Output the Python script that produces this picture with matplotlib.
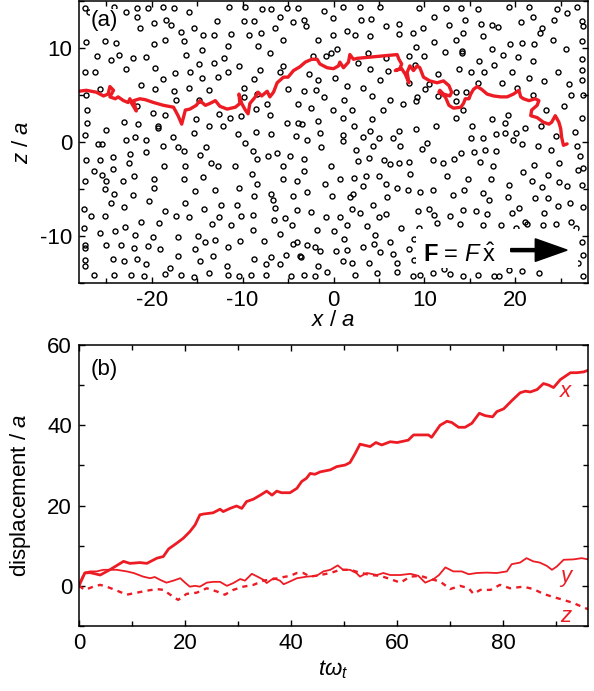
import numpy as np
import matplotlib
matplotlib.use("Agg")
import matplotlib.pyplot as plt
from matplotlib.patches import Rectangle
from matplotlib.ticker import MultipleLocator

# obstacle centres (x/a, z/a)
obstacles = np.array([
    (-27.3, 14.3), (-26.9, 13.8), (-24.2, 14.4), (-22.8, 13.8), (-21.6, 14.3), (-20.4, 14.3),
    (-18.8, 14.4), (-17.6, 14.3), (-15.9, 13.8), (-11.5, 14.4), (-9.7, 14.4), (-7.9, 14.2),
    (-6.9, 14.2), (-5.1, 14.3), (-3.9, 14.3), (-21.6, 13.3), (-19.8, 12.7), (-18.4, 13.0),
    (-17.9, 12.4), (-12.8, 12.9), (-9.9, 12.9), (-8.7, 12.9), (-5.9, 13.3), (-4.5, 12.8),
    (-21.3, 12.1), (-15.3, 12.1), (-16.8, 11.7), (-14.4, 11.4), (-13.1, 11.4), (-11.3, 11.5),
    (-9.3, 11.4), (-8.0, 11.6), (-6.4, 12.1), (-5.6, 10.8), (-27.2, 10.6), (-25.1, 10.7),
    (-23.9, 10.5), (-19.8, 10.4), (-18.5, 10.8), (-16.5, 10.7), (-11.6, 10.2), (-8.3, 10.2),
    (-26.0, 9.2), (-24.5, 8.7), (-23.6, 9.3), (-22.1, 8.9), (-20.6, 9.0), (-16.2, 9.3),
    (-14.5, 9.8), (-12.0, 8.9), (-7.0, 9.5), (-5.6, 8.1), (-10.4, 8.1), (-14.8, 8.3),
    (-13.1, 8.4), (-27.3, 7.4), (-26.2, 7.4), (-22.8, 7.8), (-19.6, 7.9), (-17.4, 7.3),
    (-15.8, 7.5), (-14.5, 6.8), (-18.8, 6.7), (-12.7, 6.9), (-11.6, 7.4), (-8.7, 6.7),
    (-8.1, 7.7), (-5.9, 7.4), (-27.2, 5.0), (-25.7, 5.6), (-21.2, 6.1), (-19.6, 5.6),
    (-17.6, 5.4), (-17.3, 4.5), (-15.9, 5.7), (-13.7, 5.5), (-14.8, 4.5), (-9.8, 5.7),
    (-9.9, 4.8), (-8.4, 5.1), (-5.0, 5.6), (-7.3, 4.0), (-3.9, 4.0), (-27.1, 3.4),
    (-21.6, 3.8), (-19.9, 3.1), (-18.5, 2.9), (-12.6, 3.0), (-11.4, 2.6), (-10.2, 2.8),
    (-8.5, 3.5), (-7.0, 2.9), (-27.1, 2.0), (-23.1, 2.1), (-21.5, 1.9), (-15.1, 2.5),
    (-12.2, 1.7), (-5.1, 2.0), (-3.9, 2.0), (-25.0, 1.3), (-13.7, 1.7), (-19.3, 1.7),
    (-19.3, 1.5), (-27.3, 0.7), (-22.8, 0.2), (-21.8, 0.5), (-20.6, 0.2), (-17.7, 0.5),
    (-15.3, 1.0), (-10.5, 0.9), (-8.5, 1.1), (-6.9, 0.9), (-4.1, 0.6), (-9.7, -0.1),
    (-25.9, -0.2), (-25.5, -0.2), (-18.8, -0.4), (-17.1, -0.5), (-14.0, -0.5), (-16.5, -1.0),
    (-20.6, -1.1), (-8.9, -1.0), (-22.4, -1.3), (-24.3, -1.6), (-14.7, -1.4), (-7.2, -1.5),
    (-6.2, -1.2), (-4.8, -1.5), (-27.2, -1.9), (-25.7, -1.9), (-8.4, -1.8), (-22.5, -2.2),
    (-13.5, -2.2), (-12.7, -2.5), (-10.8, -2.5), (-18.7, -2.6), (-16.3, -2.5), (-5.6, -2.6),
    (-1.1, 13.9), (-0.1, 13.2), (1.1, 14.4), (2.9, 14.4), (3.0, 13.0), (4.1, 13.1),
    (5.1, 14.4), (7.2, 12.6), (9.4, 14.3), (11.1, 13.3), (12.4, 14.3), (14.0, 14.3),
    (14.5, 13.0), (15.9, 14.2), (16.2, 12.6), (17.4, 12.4), (18.1, 12.2), (19.3, 14.4),
    (20.6, 12.8), (21.5, 14.4), (21.9, 13.3), (22.9, 12.1), (22.7, 11.6), (24.6, 14.2),
    (25.7, 13.7), (26.8, 14.4), (24.3, 13.0), (27.3, 12.9), (27.4, 12.3), (-3.2, 13.0),
    (-3.0, 12.3), (5.8, 12.3), (7.2, 11.5), (8.7, 11.6), (9.9, 12.1), (12.7, 12.4),
    (14.2, 11.6), (13.5, 10.8), (11.1, 10.6), (16.5, 11.3), (-0.1, 11.4), (1.5, 11.8),
    (2.4, 11.4), (4.0, 11.3), (-1.7, 10.8), (24.2, 10.8), (27.3, 10.7), (19.4, 10.4),
    (20.7, 10.5), (22.1, 10.4), (0.4, 9.9), (-0.3, 9.5), (-0.8, 9.1), (3.8, 9.5),
    (-2.3, 9.1), (9.1, 10.1), (8.3, 9.1), (10.0, 9.1), (12.3, 9.6), (14.1, 9.7),
    (14.1, 9.5), (17.4, 9.9), (18.7, 9.3), (20.3, 9.0), (21.9, 8.6), (25.6, 9.9),
    (27.3, 8.8), (16.0, 8.6), (17.7, 8.2), (2.7, 8.4), (5.8, 8.9), (9.0, 8.2),
    (4.0, 7.8), (27.3, 7.7), (27.3, 6.6), (24.7, 7.5), (23.2, 6.5), (21.5, 6.8),
    (19.6, 7.4), (18.5, 6.3), (16.6, 7.4), (15.1, 7.4), (13.8, 7.8), (15.9, 6.3),
    (11.5, 7.2), (10.5, 6.2), (6.0, 7.6), (5.1, 6.6), (1.5, 6.0), (0.2, 6.8),
    (-1.7, 6.6), (-2.7, 7.2), (3.2, 5.7), (8.3, 6.3), (10.1, 5.6), (25.9, 6.2),
    (26.1, 5.0), (27.4, 5.0), (22.0, 5.0), (20.2, 5.7), (14.6, 5.3), (13.5, 5.3),
    (13.5, 4.4), (11.5, 4.9), (9.2, 4.8), (9.1, 4.4), (6.2, 4.5), (7.7, 4.0),
    (4.2, 4.9), (1.2, 4.5), (-1.0, 4.8), (-1.9, 5.5), (-3.3, 5.4), (-2.5, 3.6),
    (-0.1, 3.4), (23.4, 3.4), (25.4, 3.8), (2.0, 3.4), (5.5, 3.4), (14.2, 3.4),
    (19.2, 2.9), (13.5, 2.6), (17.4, 2.4), (18.9, 2.0), (15.2, 1.7), (11.3, 1.7),
    (9.1, 1.4), (7.2, 1.2), (4.2, 2.4), (1.0, 2.6), (2.3, 1.7), (4.0, 1.2),
    (-1.7, 2.2), (-3.5, 1.9), (27.3, 2.6), (26.6, 1.1), (21.1, 1.5), (22.8, 1.7),
    (-1.5, 1.0), (-2.9, 0.2), (-1.4, -0.5), (1.1, 0.7), (1.0, 0.1), (3.2, 0.5),
    (5.0, 0.4), (6.5, 0.4), (4.4, -0.4), (2.5, -0.8), (7.3, -0.4), (10.3, -0.1),
    (9.7, -0.7), (15.1, 0.4), (16.5, 0.4), (17.9, 0.8), (18.9, 1.0), (20.1, 1.0),
    (19.8, 0.2), (20.7, -0.2), (22.5, -0.4), (23.9, -0.8), (24.5, 0.6), (26.8, -0.4),
    (-3.3, -1.8), (-0.3, -2.5), (2.7, -2.0), (3.9, -1.7), (5.6, -1.9), (6.2, -2.3),
    (7.2, -2.2), (8.3, -2.1), (11.0, -1.9), (12.1, -2.2), (13.3, -1.8), (14.0, -1.2),
    (15.5, -1.1), (16.7, -0.9), (17.9, -1.0), (16.1, -2.1), (17.6, -2.5), (22.1, -2.4),
    (24.8, -2.2), (27.1, -1.5), (27.5, -2.8),
    (-26.4, -3.1), (-25.5, -3.5), (-24.3, -2.9), (-27.3, -4.1), (-25.0, -4.2), (-23.2, -4.2),
    (-21.9, -3.6), (-19.8, -3.9), (-19.7, -4.9), (-16.5, -3.9), (-14.4, -3.7), (-15.2, -5.2),
    (-13.0, -5.1), (-10.4, -4.9), (-9.0, -3.4), (-8.4, -4.5), (-5.6, -3.9), (-4.0, -4.2),
    (-25.1, -5.0), (-24.2, -5.5), (-22.1, -5.6), (-24.5, -6.5), (-23.0, -6.9), (-20.3, -6.3),
    (-16.3, -6.5), (-14.2, -7.1), (-12.4, -6.7), (-10.6, -6.7), (-8.8, -5.7), (-6.9, -5.5),
    (-6.7, -6.2), (-6.4, -7.0), (-4.5, -5.7), (-4.0, -7.2), (-27.5, -7.1), (-26.7, -7.9),
    (-25.1, -7.9), (-18.5, -7.3), (-17.3, -7.9), (-15.9, -8.0), (-13.4, -8.7), (-12.6, -8.0),
    (-11.3, -8.8), (-10.2, -7.9), (-8.9, -7.8), (-6.5, -8.3), (-5.3, -8.1), (-4.6, -8.8),
    (-21.2, -8.5), (-19.2, -8.6), (-22.9, -9.0), (-27.4, -9.1), (-25.7, -9.7), (-24.0, -9.5),
    (-21.8, -9.9), (-19.9, -10.1), (-17.1, -10.1), (-14.9, -10.0), (-14.1, -10.6), (-13.0, -10.4),
    (-10.3, -10.5), (-8.9, -9.4), (-7.7, -10.5), (-5.9, -9.8), (-4.5, -10.8), (-4.0, -10.6),
    (-27.3, -11.0), (-27.3, -11.3), (-25.0, -11.0), (-23.4, -11.0), (-21.9, -11.3), (-20.4, -11.1),
    (-19.1, -11.4), (-15.2, -11.4), (-11.6, -11.2), (-27.3, -12.5), (-27.3, -13.2), (-24.3, -12.4),
    (-23.1, -12.7), (-21.6, -12.4), (-20.6, -13.0), (-18.0, -13.4), (-18.5, -14.0), (-17.1, -12.1),
    (-14.7, -12.7), (-13.3, -12.1), (-11.7, -13.2), (-8.8, -12.4), (-7.4, -13.0), (-6.9, -12.2),
    (-5.9, -13.0), (-5.2, -12.0), (-3.7, -12.1), (-26.4, -14.1), (-24.2, -14.2), (-22.3, -14.1),
    (-20.9, -14.3), (-16.8, -14.2), (-15.4, -14.4), (-13.7, -13.9), (-11.6, -14.2), (-10.4, -14.3),
    (-9.1, -14.2), (-7.4, -14.1), (-4.7, -14.3),
    (-3.3, -3.1), (-2.9, -5.3), (-0.9, -4.5), (-0.2, -5.7), (0.7, -3.9), (2.3, -3.8),
    (3.6, -3.6), (5.0, -3.6), (3.3, -4.7), (1.8, -5.8), (2.2, -5.5), (5.8, -4.5),
    (5.9, -5.9), (4.4, -6.7), (2.0, -7.1), (2.9, -7.5), (5.0, -8.0), (5.8, -7.7),
    (7.0, -4.9), (8.2, -5.1), (8.4, -3.4), (9.5, -5.3), (10.9, -5.1), (12.5, -3.6),
    (13.2, -5.6), (14.4, -5.1), (14.8, -3.9), (16.5, -5.4), (17.1, -6.2), (17.3, -3.9),
    (9.3, -7.3), (10.5, -7.1), (11.1, -7.8), (12.8, -7.9), (14.3, -7.2), (15.7, -7.3),
    (16.9, -7.7), (19.3, -4.6), (19.2, -5.9), (19.6, -7.5), (20.4, -7.0), (20.9, -3.2),
    (21.8, -4.1), (22.9, -4.8), (22.2, -6.0), (23.6, -3.5), (23.6, -6.0), (23.2, -7.5),
    (24.8, -4.3), (24.7, -6.8), (25.7, -4.7), (26.0, -6.5), (26.9, -3.0), (27.3, -4.6),
    (27.4, -6.9), (-2.5, -7.4), (-0.8, -8.0), (0.7, -8.0), (1.5, -8.8), (3.7, -8.9),
    (7.4, -9.1), (9.4, -9.2), (11.4, -8.6), (13.9, -8.7), (16.4, -8.8), (18.4, -8.8),
    (20.1, -9.1), (21.1, -8.5), (21.3, -8.7), (23.0, -8.8), (24.5, -8.7), (26.1, -8.5),
    (26.7, -9.2), (-1.8, -9.4), (0.1, -9.5), (1.2, -10.3), (4.6, -9.9), (6.2, -10.6),
    (-2.9, -11.0), (-2.0, -11.2), (-1.5, -11.6), (-3.6, -12.2), (0.3, -11.6), (1.5, -11.5),
    (3.2, -11.2), (4.5, -10.8), (5.1, -11.7), (6.5, -11.9), (8.3, -11.4), (8.9, -10.3),
    (8.9, -12.6), (1.1, -12.7), (2.0, -12.9), (3.9, -12.9), (7.0, -12.9), (-1.7, -13.2),
    (-0.7, -13.8), (-3.3, -14.2), (-2.0, -14.3), (2.4, -14.2), (4.8, -13.9), (7.0, -13.8),
    (8.8, -14.3), (9.5, -14.1), (11.0, -13.9), (12.2, -13.5), (12.8, -14.0), (14.3, -14.3),
    (15.9, -14.2), (17.7, -14.3), (18.2, -14.3), (19.3, -13.6), (20.7, -13.7), (22.6, -13.9),
    (27.3, -10.6), (27.4, -12.0), (26.9, -12.9), (27.4, -14.3),
])

# particle trajectory in panel (a)
traj_x = [-28.0, -27.2, -26.1, -25.3, -24.8, -24.6, -24.2, -24.6, -24.0, -23.7, -23.1, -22.6,
          -22.4, -22.2, -21.7, -22.0, -21.3, -20.7, -19.8, -18.7, -17.6, -17.1, -16.7, -16.3,
          -15.8, -15.1, -14.7, -14.1, -13.6, -13.0, -12.5, -11.7, -10.8, -10.3, -10.4, -10.1,
          -9.7, -9.4, -9.2, -8.6, -8.3, -7.9, -7.3, -7.0, -6.6, -6.2, -5.5, -5.0, -4.4, -3.7,
          -3.1, -2.4, -1.8, -1.5, -0.7, 0.0, 0.55, 0.7, 1.1, 1.65, 1.8, 2.2, 2.6, 3.7, 4.8,
          5.9, 7.0, 7.2, 7.5, 7.3, 6.8, 7.5, 7.9, 8.3, 8.1, 8.4, 8.8, 9.2, 9.5, 9.7, 9.9,
          10.6, 11.4, 12.1, 12.7, 13.0, 12.8, 12.1, 11.7, 11.6, 12.3, 12.7, 13.2, 14.0, 14.3,
          14.5, 14.9, 15.1, 15.4, 15.8, 16.3, 16.9, 17.6, 18.4, 19.1, 19.8, 20.4, 20.6, 20.9,
          21.5, 22.2, 22.6, 22.4, 21.8, 21.7, 22.4, 23.1, 23.7, 24.0, 24.4, 24.8, 25.0, 25.1,
          25.3, 25.7]
traj_z = [5.4, 5.5, 5.3, 4.9, 5.1, 5.9, 5.5, 4.8, 4.6, 4.8, 4.4, 4.2,
          4.6, 4.1, 3.3, 4.4, 4.6, 4.5, 4.2, 3.9, 3.7, 2.8, 1.9, 3.4,
          3.5, 3.9, 4.4, 3.9, 4.1, 4.4, 3.8, 3.5, 3.7, 4.1, 5.1, 4.1,
          3.4, 3.0, 4.1, 4.8, 5.3, 4.9, 5.4, 4.8, 5.3, 6.3, 6.9, 6.9, 7.6, 8.0,
          8.5, 8.8, 8.8, 8.3, 7.9, 7.8, 8.1, 8.5, 7.9, 8.5, 9.3, 8.8, 8.9, 9.0, 9.1,
          9.2, 9.3, 8.8, 8.3, 7.8, 7.6, 7.8, 7.2, 6.3, 7.4, 8.1, 7.6, 8.1, 7.9, 7.4, 6.9,
          6.5, 6.3, 6.5, 6.0, 5.3, 4.9, 5.1, 5.5, 5.3, 4.8, 3.9, 3.6, 3.7, 4.1,
          4.6, 4.6, 5.1, 5.6, 5.9, 5.6, 5.1, 4.9, 4.8, 4.8, 5.1, 5.5, 4.8, 4.6,
          4.4, 4.6, 4.4, 3.9, 3.4, 2.8, 2.6, 2.1, 1.9, 2.1, 2.8, 2.1, 1.4, 0.5,
          -0.35, -0.2]

# displacement components in panel (b)
t_x = [0, 1.1, 2.1, 4.0, 5.8, 8.4, 9.6, 11.5, 12.8, 14.7, 15.9, 16.9, 18.4, 19.7, 20.9, 21.9,
       22.8, 23.5, 25.3, 26.6, 27.2, 28.5, 29.7, 30.7, 31.6, 32.9, 34.2, 35.4, 36.4, 37.3,
       38.2, 39.8, 41.1, 42.0, 42.9, 43.6, 44.5, 45.5, 47.4, 48.6, 50.2, 51.1, 52.1, 53.0,
       54.9, 56.0, 57.1, 58.7, 60.0, 62.1, 63.1, 64.3, 65.9, 66.5, 68.1, 69.4, 70.3, 71.6,
       72.8, 74.1, 75.5, 76.6, 78.0, 78.8, 80.1, 81.6, 83.2, 84.2, 85.1, 86.4, 87.6, 88.6,
       89.5, 90.8, 91.7, 92.7, 93.9, 95.2, 96.0]
disp_x = [0, 3.2, 3.3, 2.7, 4.0, 6.1, 5.6, 5.8, 5.6, 6.9, 7.3, 9.2, 10.6, 11.9, 13.5, 15.2,
          17.7, 17.9, 18.2, 19.1, 18.5, 19.3, 19.9, 19.3, 21.0, 21.6, 22.6, 23.6, 22.6, 23.6,
          23.2, 23.2, 24.3, 26.0, 26.8, 28.0, 27.8, 28.4, 28.9, 29.7, 30.1, 30.7, 33.0, 35.3,
          34.7, 35.7, 35.1, 35.9, 35.7, 36.3, 37.6, 37.6, 37.6, 37.0, 40.0, 41.0, 40.7, 39.5,
          39.5, 40.5, 43.0, 42.4, 42.1, 43.4, 44.1, 46.1, 48.1, 48.5, 48.3, 48.9, 50.4, 50.0,
          49.4, 51.4, 52.2, 53.1, 53.1, 53.3, 53.7]

t_y = [0, 0.5, 1.1, 2.1, 3.3, 4.6, 5.8, 7.1, 9.0, 10.3, 12.1, 13.4, 14.3, 15.3, 16.5, 17.8,
       19.1, 20.0, 20.9, 21.9, 22.8, 24.1, 25.3, 26.6, 27.9, 29.1, 30.4, 31.3, 32.6, 33.8,
       34.8, 35.4, 36.7, 37.9, 38.6, 39.8, 41.1, 43.0, 44.8, 46.1, 47.4, 48.8, 49.8, 51.1,
       52.3, 53.0, 54.3, 56.2, 57.4, 58.7, 60.6, 62.5, 64.0, 65.3, 66.9, 67.9, 69.1, 70.6,
       72.2, 73.5, 75.0, 76.9, 78.8, 80.7, 81.6, 83.2, 84.4, 85.7, 86.9, 88.2, 89.2, 90.1,
       91.4, 93.3, 94.8, 96.0]
disp_y = [0, 1.9, 3.3, 3.6, 3.6, 4.0, 4.0, 4.0, 3.6, 3.2, 2.3, 1.9, 2.2, 1.5, 0.8, 1.3,
          1.9, 0.8, -0.2, 0, -0.2, 0.8, 1.0, 1.0, 0, 0.7, 1.7, 1.3, 3.0, 2.2,
          1.5, 0.7, 1.9, 1.3, 0.4, 1.1, 1.9, 2.3, 2.5, 3.6, 4.0, 5.1, 4.0, 4.0,
          3.2, 2.3, 3.2, 2.7, 3.2, 2.7, 2.7, 3.0, 2.5, 0.8, 1.7, 2.7, 4.6, 3.6,
          3.6, 2.9, 3.2, 3.3, 3.2, 3.6, 5.4, 5.8, 6.9, 6.1, 5.8, 5.0, 4.0, 4.8,
          6.5, 6.6, 6.9, 6.6]

t_z = [0, 1.1, 2.7, 4.0, 5.2, 6.8, 9.0, 10.9, 12.8, 14.7, 15.9, 17.2, 18.7, 20.3, 22.2, 24.1,
       26.0, 27.5, 29.1, 31.0, 32.9, 34.8, 36.7, 38.6, 39.8, 41.1, 42.3, 43.6, 45.5, 47.4,
       49.3, 51.1, 53.0, 54.9, 56.8, 58.7, 60.6, 62.5, 64.4, 66.3, 68.1, 70.0, 71.9, 73.5,
       74.4, 75.7, 77.6, 79.4, 81.3, 83.8, 85.7, 87.6, 89.5, 91.4, 93.3, 95.2, 96.0]
disp_z = [0, -1.0, -0.2, 0.25, -0.2, -1.0, -2.2, -1.7, -1.2, -0.8, -1.0, -2.2, -3.5, -2.0, -1.7, -0.6,
          -1.4, -2.2, -1.0, -0.2, 0.25, 1.3, 1.7, 2.2, 2.5, 3.2, 3.2, 2.3, 2.7, 3.2,
          4.0, 4.0, 3.3, 2.7, 2.5, 1.7, 0.8, 2.3, 2.5, 1.7, 1.1, -0.8, 0, -0.6,
          -2.0, -1.0, -1.0, 0.25, -0.6, -0.2, -0.8, -2.0, -2.8, -3.5, -4.3, -5.4, -5.8]

RED = '#ed1c24'

plt.rcParams.update({
    'font.family': ['Liberation Sans', 'DejaVu Sans'],
    'font.size': 16,
    'mathtext.fontset': 'custom',
    'mathtext.rm': 'Liberation Sans',
    'mathtext.it': 'Liberation Sans:italic',
    'mathtext.bf': 'Liberation Sans:bold',
    'axes.unicode_minus': False,
    'axes.linewidth': 1.1,
})


def style_axes(ax, major, minor):
    """inward ticks on all four sides"""
    ax.xaxis.set_major_locator(MultipleLocator(major))
    ax.yaxis.set_major_locator(MultipleLocator(major))
    ax.xaxis.set_minor_locator(MultipleLocator(minor))
    ax.yaxis.set_minor_locator(MultipleLocator(minor))
    ax.tick_params(which='both', direction='in', top=True, right=True, width=1.0, pad=5)
    ax.tick_params(which='major', length=4)
    ax.tick_params(which='minor', length=3.5)


fig = plt.figure(figsize=(5.94, 6.91), dpi=100)
ax_a = fig.add_axes([79 / 594, 1 - 283 / 691, 509 / 594, 282 / 691])
ax_b = fig.add_axes([79 / 594, 1 - 626 / 691, 509 / 594, 281 / 691])

# ---- panel (a): obstacles and trajectory
ax_a.plot(obstacles[:, 0], obstacles[:, 1], 'o', ls='none', ms=3.6, mfc='none', mec='k', mew=1.0, zorder=1)
ax_a.plot(traj_x, traj_z, color=RED, lw=2.4, solid_joinstyle='round', solid_capstyle='round', zorder=2)
ax_a.add_patch(Rectangle((9.1, -13.4), 17.8, 4.1, fc='white', ec='none', zorder=3))
ax_a.text(9.8, -12.8, r'$\mathbf{F}$ = $F\,\hat{\mathrm{x}}$', fontsize=17, va='baseline', zorder=4)
ax_a.arrow(19.5, -11.5, 6.2, 0, width=0.33, head_width=2.4, head_length=3.5,
           length_includes_head=True, fc='k', ec='k', zorder=4)
ax_a.text(0.022, 0.968, '(a)', transform=ax_a.transAxes, va='top', ha='left',
          bbox=dict(fc='white', ec='none', pad=0.5), zorder=4)
ax_a.set_xlim(-28, 28)
ax_a.set_ylim(-15, 15)
style_axes(ax_a, 10, 5)
ax_a.set_xlabel(r'$x$ / $a$')
ax_a.xaxis.set_label_coords(0.5, -0.096)
ax_a.set_ylabel(r'$z$ / $a$')
ax_a.yaxis.set_label_coords(-0.09, 0.5)

# ---- panel (b): displacement vs time
ax_b.plot(t_x, disp_x, color=RED, lw=2.0)
ax_b.plot(t_y, disp_y, color=RED, lw=1.3)
ax_b.plot(t_z, disp_z, color=RED, lw=1.7, ls=(0, (2.2, 2.2)))
ax_b.text(92, 48.3, r'$x$', color=RED, ha='center', va='center')
ax_b.text(92, 1.9, r'$y$', color=RED, ha='center', va='center')
ax_b.text(92, -7.6, r'$z$', color=RED, ha='center', va='center')
ax_b.text(0.022, 0.95, '(b)', transform=ax_b.transAxes, va='top', ha='left')
ax_b.set_xlim(0, 96)
ax_b.set_ylim(-10, 60)
style_axes(ax_b, 20, 10)
ax_b.set_xlabel(r'$t\omega_t$')
ax_b.xaxis.set_label_coords(0.5, -0.115)
ax_b.set_ylabel('displacement / $a$')
ax_b.yaxis.set_label_coords(-0.09, 0.466)

fig.savefig('out.png', dpi=100)
